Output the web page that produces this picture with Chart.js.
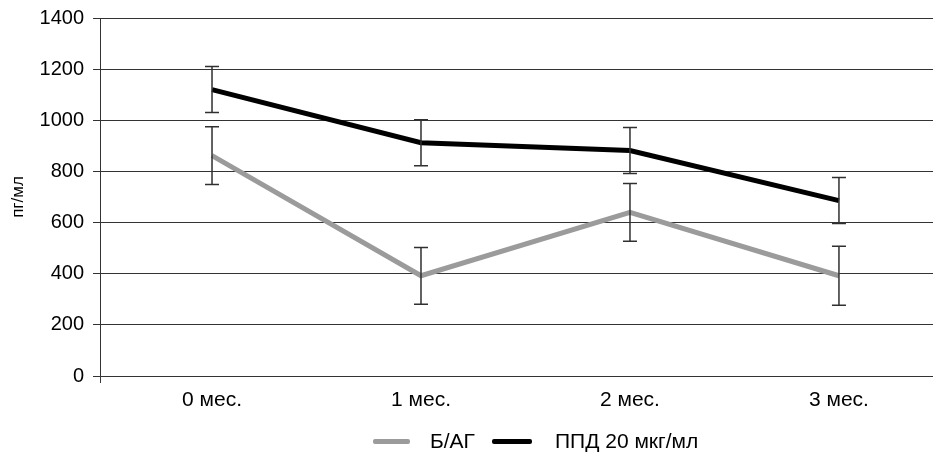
<!DOCTYPE html>
<html>
<head>
<meta charset="utf-8">
<script src="https://cdn.jsdelivr.net/npm/chart.js@4"></script>
<style>
html,body{margin:0;padding:0;background:#fff;overflow:hidden;}
#wrap{width:933px;height:456px;position:relative;}
#legend{position:absolute;left:373px;top:428px;height:26px;display:flex;align-items:center;
  font-family:'Liberation Sans Narrow','Liberation Sans',Arial,sans-serif;font-size:21px;color:#000;white-space:nowrap;}
#legend .sw{display:inline-block;height:5px;border-radius:2px;}
</style>
</head>
<body>
<div id="wrap"><canvas id="c" width="933" height="456"></canvas><div id="legend"></div></div>
<script>
const categories = ['0 мес.', '1 мес.', '2 мес.', '3 мес.'];
const seriesNames = ['Б/АГ', 'ППД 20 мкг/мл'];
const bagValues = [862, 392, 640, 392];
const bagErrors = [113, 111, 113, 115];
const ppdValues = [1120, 912, 882, 686];
const ppdErrors = [90, 90, 90, 90];
const yTicks = [0, 200, 400, 600, 800, 1000, 1200, 1400];
const yTitle = 'пг/мл';
const seriesColors = ['#9b9b9b', '#000000'];

const FONT = "'Liberation Sans Narrow', 'Liberation Sans', Arial, sans-serif";

const errorBars = {
  id: 'errorBars',
  afterDatasetsDraw(chart) {
    const ctx = chart.ctx;
    const xs = chart.scales.x, ys = chart.scales.y;
    ctx.save();
    ctx.strokeStyle = '#303030';
    ctx.lineWidth = 1.5;
    chart.data.datasets.forEach(ds => {
      ds.data.forEach((p, i) => {
        const e = ds.errors[i];
        const x = xs.getPixelForValue(p.x);
        const yt = ys.getPixelForValue(p.y + e);
        const yb = ys.getPixelForValue(p.y - e);
        ctx.beginPath();
        ctx.moveTo(x, yt); ctx.lineTo(x, yb);
        ctx.moveTo(x - 7, yt); ctx.lineTo(x + 7, yt);
        ctx.moveTo(x - 7, yb); ctx.lineTo(x + 7, yb);
        ctx.stroke();
      });
    });
    const xa = chart.chartArea.left, yb0 = ys.getPixelForValue(0);
    ctx.strokeStyle = '#3a3a3a';
    ctx.lineWidth = 1;
    ctx.beginPath();
    ctx.moveTo(xa + 0.5, yb0); ctx.lineTo(xa + 0.5, yb0 + 7);
    ctx.stroke();
    ctx.restore();
  }
};

const chart = new Chart(document.getElementById('c'), {
  type: 'line',
  data: {
    datasets: [
      {
        label: seriesNames[0],
        data: bagValues.map((v, i) => ({x: i, y: v})),
        errors: bagErrors,
        borderColor: seriesColors[0],
        backgroundColor: seriesColors[0],
        borderWidth: 5,
        pointRadius: 0,
        tension: 0
      },
      {
        label: seriesNames[1],
        data: ppdValues.map((v, i) => ({x: i, y: v})),
        errors: ppdErrors,
        borderColor: seriesColors[1],
        backgroundColor: seriesColors[1],
        borderWidth: 5,
        pointRadius: 0,
        tension: 0
      }
    ]
  },
  options: {
    responsive: false,
    animation: false,
    layout: {padding: {top: 18, right: 0, left: 0, bottom: 40}},
    plugins: {
      legend: {display: false},
      tooltip: {enabled: false}
    },
    scales: {
      x: {
        type: 'linear',
        min: -0.536,
        max: 3.45,
        afterBuildTicks: s => { s.ticks = categories.map((c, i) => ({value: i})); },
        afterFit: s => { s.height = 40; s.paddingLeft = 0; s.paddingRight = 0; },
        ticks: {
          callback: v => categories[v] || '',
          color: '#000',
          font: {family: FONT, size: 21},
          padding: 12,
          maxRotation: 0
        },
        grid: {display: false, drawTicks: false},
        border: {display: false}
      },
      y: {
        min: 0,
        max: 1400,
        afterBuildTicks: s => { s.ticks = yTicks.map(v => ({value: v})); },
        afterFit: s => { s.width = 100; s.paddingTop = 0; s.paddingBottom = 0; },
        ticks: {
          callback: v => String(v),
          color: '#000',
          font: {family: FONT, size: 20},
          padding: 9
        },
        grid: {color: '#333333', lineWidth: 1, tickLength: 7, drawTicks: true},
        border: {display: true, color: '#333333', width: 1},
        title: {
          display: true,
          text: yTitle,
          color: '#000',
          font: {family: FONT, size: 17},
          padding: {top: 8, bottom: 0}
        }
      }
    }
  },
  plugins: [errorBars]
});

// HTML legend built from the series names / colours
const legend = document.getElementById('legend');
const swW = [37, 40], gapAfterSw = [20, 23];
seriesNames.forEach((name, i) => {
  const sw = document.createElement('span');
  sw.className = 'sw';
  sw.style.width = swW[i] + 'px';
  sw.style.background = seriesColors[i];
  sw.style.marginRight = gapAfterSw[i] + 'px';
  const t = document.createElement('span');
  t.textContent = name;
  if (i < seriesNames.length - 1) t.style.marginRight = '17px';
  legend.appendChild(sw);
  legend.appendChild(t);
});
</script>
</body>
</html>
